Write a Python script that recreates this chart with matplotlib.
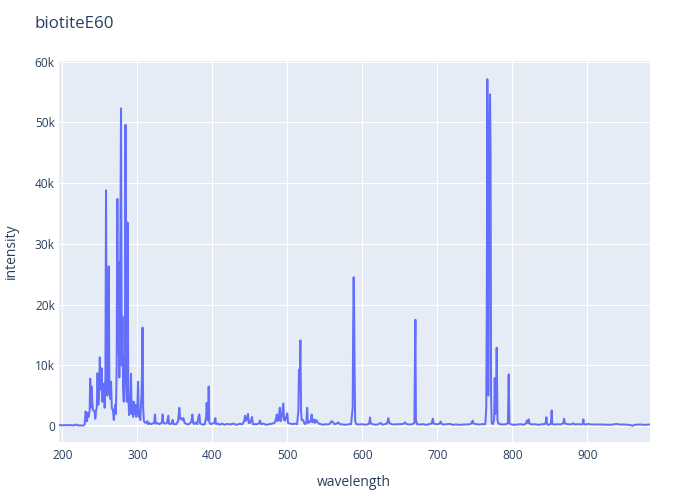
import matplotlib.pyplot as plt
from matplotlib.ticker import FuncFormatter

# Spectrum (wavelength in nm, intensity in counts)
wavelength = [
    # 195-310 nm, dense UV cluster
    195.6, 200, 210, 215, 219, 221, 228, 230, 231, 232.3, 233, 234, 235,
    236.5, 237.2, 238.2, 239, 240, 241, 243, 244, 245, 246, 247, 248, 249,
    250, 251, 252.5, 253.5, 254.5, 255.6, 256.5, 257.5, 258.3, 259.2, 260,
    261, 261.9, 262.8, 263.8, 265, 266, 267.6, 268.7, 269.5, 270.5, 271.5,
    272.5, 273.4, 274.3, 275.2, 276, 277, 278.3, 279.3, 280.2, 281, 282,
    283.5, 284.3, 285.2, 286, 287, 288, 289, 290.5, 291.6, 292.5, 293.5,
    294.5, 295.5, 296.5, 297.5, 298.5, 300, 301, 302, 303, 304, 305.5,
    306.3, 307, 307.8, 308.8,
    # 310-440 nm
    310, 311.5, 313.4, 314.5, 316, 318, 320, 322.5, 323.6, 324.5, 327, 329,
    331, 333, 333.8, 334.7, 337, 339.5, 341.4, 342.3, 344, 346, 347.2, 348.3,
    352, 354.5, 356, 357, 358.5, 360, 361.5, 363, 366, 369, 372, 373.4,
    374.5, 376, 378, 380, 381.8, 382.7, 383.8, 386, 388, 390, 391.8, 392.5,
    393.5, 394.5, 395.2, 396, 398, 400, 402.5, 404, 405, 408, 410, 413, 416,
    420, 424, 428, 432, 436, 440,
    # 440-585 nm
    442.5, 443.6, 444.8, 446.5, 447.6, 448.6, 450, 451.5, 453, 454, 457, 460,
    462.5, 463.6, 465, 468, 472, 476, 480, 483, 485, 486, 487, 488.5, 490,
    491, 492.5, 494.7, 495.6, 497, 498.6, 500, 501, 504, 507, 510, 513,
    514.8, 515.6, 516.5, 517.4, 518.3, 519.2, 521, 522.5, 524, 525.5, 526.5,
    527.5, 529.5, 531.5, 532.5, 533.5, 535.5, 537, 538.5, 540, 542, 545, 548,
    551, 554, 556.5, 559, 561, 563, 566, 568, 570, 574, 578, 582, 585,
    # 585-760 nm
    587.2, 587.8, 588.5, 589.2, 589.8, 590.5, 592, 596, 600, 604, 608, 609.5,
    610.3, 611.2, 614, 618, 622, 623.6, 625.5, 627, 630, 633, 634.7, 636,
    639, 643, 647, 651, 655, 657, 659, 663, 667, 669.5, 670.2, 670.8, 671.5,
    673, 677, 681, 685, 689, 692, 693.2, 694, 695, 698, 701, 703, 704.5,
    706, 709, 712, 717, 720, 725, 730, 735, 740, 744, 746.2, 747.2, 748.2,
    752, 756, 760,
    # 760-984 nm, K doublet and NIR
    764, 765.3, 766, 766.7, 767.4, 768, 768.6, 769.4, 770.3, 771, 771.7,
    772.5, 774, 775.8, 776.6, 777.4, 778.2, 779.2, 780.2, 781.5, 784, 788,
    792, 794.2, 795.2, 796.2, 799, 803, 807, 811, 815, 818, 819.6, 820.5,
    821.8, 823, 826, 830, 835, 840, 843, 844.5, 845.4, 846.3, 849, 851.5,
    852.5, 853.4, 857, 861, 865, 868, 869, 870.2, 874, 878, 881.4, 883, 888,
    892, 894, 894.7, 895.5, 898, 901, 905, 912, 920, 928, 935, 939, 942, 950,
    955, 961, 963, 970, 977, 983.6,
]
intensity = [
    # 195-310 nm
    150, 120, 150, 100, 250, 100, 80, 300, 2400, 2000, 800, 2200, 1500,
    2500, 7800, 3000, 6500, 4000, 2600, 2400, 1200, 2600, 3000, 8700, 3500,
    5000, 11300, 6000, 9500, 4000, 6500, 7000, 3000, 8000, 38800, 9000, 5000,
    10000, 26300, 6000, 4500, 7300, 3000, 2500, 1000, 2500, 3500, 2000,
    10000, 37400, 12000, 27000, 8000, 20000, 52300, 10000, 18000, 6000, 4000,
    12000, 49600, 9000, 4000, 33500, 6000, 1800, 2500, 8600, 2000, 4000,
    1500, 4000, 2000, 3500, 1500, 2500, 7300, 1500, 2000, 1000, 5000,
    8800, 16200, 3000, 800,
    # 310-440 nm
    600, 500, 800, 300, 500, 300, 400, 500, 1900, 400, 500, 300,
    400, 700, 1900, 500, 400, 500, 1700, 400, 300, 500, 1000, 300,
    300, 800, 3000, 1200, 1300, 1000, 1300, 500, 300, 300, 700, 1900,
    500, 300, 600, 300, 1600, 1900, 400, 300, 200, 300, 1500, 3800,
    1000, 1500, 6500, 600, 300, 400, 500, 1300, 300, 400, 200, 400, 200,
    350, 250, 400, 200, 350, 300,
    # 440-585 nm
    800, 1700, 900, 1300, 2000, 500, 500, 800, 1500, 300, 300, 300,
    500, 900, 300, 400, 200, 300, 400, 500, 1200, 1900, 800, 1000, 3000,
    800, 1500, 3700, 1000, 900, 1600, 2100, 500, 400, 300, 400, 300,
    2500, 9300, 6000, 14100, 2500, 1000, 1000, 500, 300, 800, 3000,
    500, 600, 1000, 1900, 600, 1100, 500, 1000, 700, 400, 300, 200,
    300, 250, 350, 800, 600, 300, 400, 600, 300, 250, 200, 300, 300,
    # 585-760 nm
    3000, 16000, 24500, 18000, 8000, 800, 300, 250, 300, 200, 300, 600,
    1400, 400, 300, 200, 300, 500, 400, 200, 300, 400, 1300, 500,
    300, 250, 300, 300, 350, 600, 300, 250, 300, 500, 11000, 17500, 1000,
    300, 250, 300, 200, 300, 400, 700, 1200, 400, 300, 300, 400, 750,
    300, 250, 300, 350, 200, 250, 200, 250, 250, 300, 600, 900, 400,
    300, 250, 300,
    # 760-984 nm
    300, 3000, 20000, 57100, 35000, 5000, 25000, 45000, 54600, 45600, 5000,
    500, 300, 1000, 7900, 2000, 3000, 12900, 1000, 400, 300, 250,
    300, 500, 8500, 400, 250, 200, 250, 300, 200, 400, 900, 500,
    1100, 400, 250, 300, 200, 300, 300, 500, 1450, 300, 200, 400,
    2550, 300, 250, 300, 250, 500, 1200, 400, 300, 250, 450, 250, 300,
    250, 400, 1100, 300, 250, 350, 250, 250, 250, 200, 250, 350, 250, 250,
    200, 50, 200, 250, 200, 250,
]

y_ticks = [0, 10000, 20000, 30000, 40000, 50000, 60000]
x_ticks = [200, 300, 400, 500, 600, 700, 800, 900]

text_color = "#2a3f5f"
plt.rcParams["font.family"] = ["Open Sans", "DejaVu Sans"]

fig = plt.figure(figsize=(7, 5), dpi=100)
ax = fig.add_axes([59 / 700, 1 - 442 / 500, 591 / 700, 381 / 500])
ax.set_facecolor("#E5ECF6")

ax.plot(wavelength, intensity, color="#636efa", linewidth=1.45, zorder=3)

ax.set_xlim(195.6, 983.6)
ax.set_ylim(-2630, 60100)
ax.set_xticks(x_ticks)
ax.set_yticks(y_ticks)
ax.yaxis.set_major_formatter(FuncFormatter(lambda v, p: "0" if v == 0 else f"{int(v / 1000)}k"))

ax.grid(True, color="white", linewidth=0.75, zorder=0)
ax.axhline(0, color="white", linewidth=1.5, zorder=1)
ax.set_axisbelow(True)
for s in ax.spines.values():
    s.set_visible(False)
ax.tick_params(axis="both", length=0, labelsize=8.6, labelcolor=text_color)
ax.tick_params(axis="x", pad=5)
ax.tick_params(axis="y", pad=3)

fig.text(35 / 700, 1 - 24 / 500, "biotiteE60", fontsize=12.2, color=text_color, va="center", ha="left")
fig.text(354 / 700, 1 - 483 / 500, "wavelength", fontsize=10, color=text_color, va="center", ha="center")
fig.text(11 / 700, 1 - 251 / 500, "intensity", fontsize=10, color=text_color, va="center", ha="center", rotation=90)

plt.savefig("out.png", dpi=100)
